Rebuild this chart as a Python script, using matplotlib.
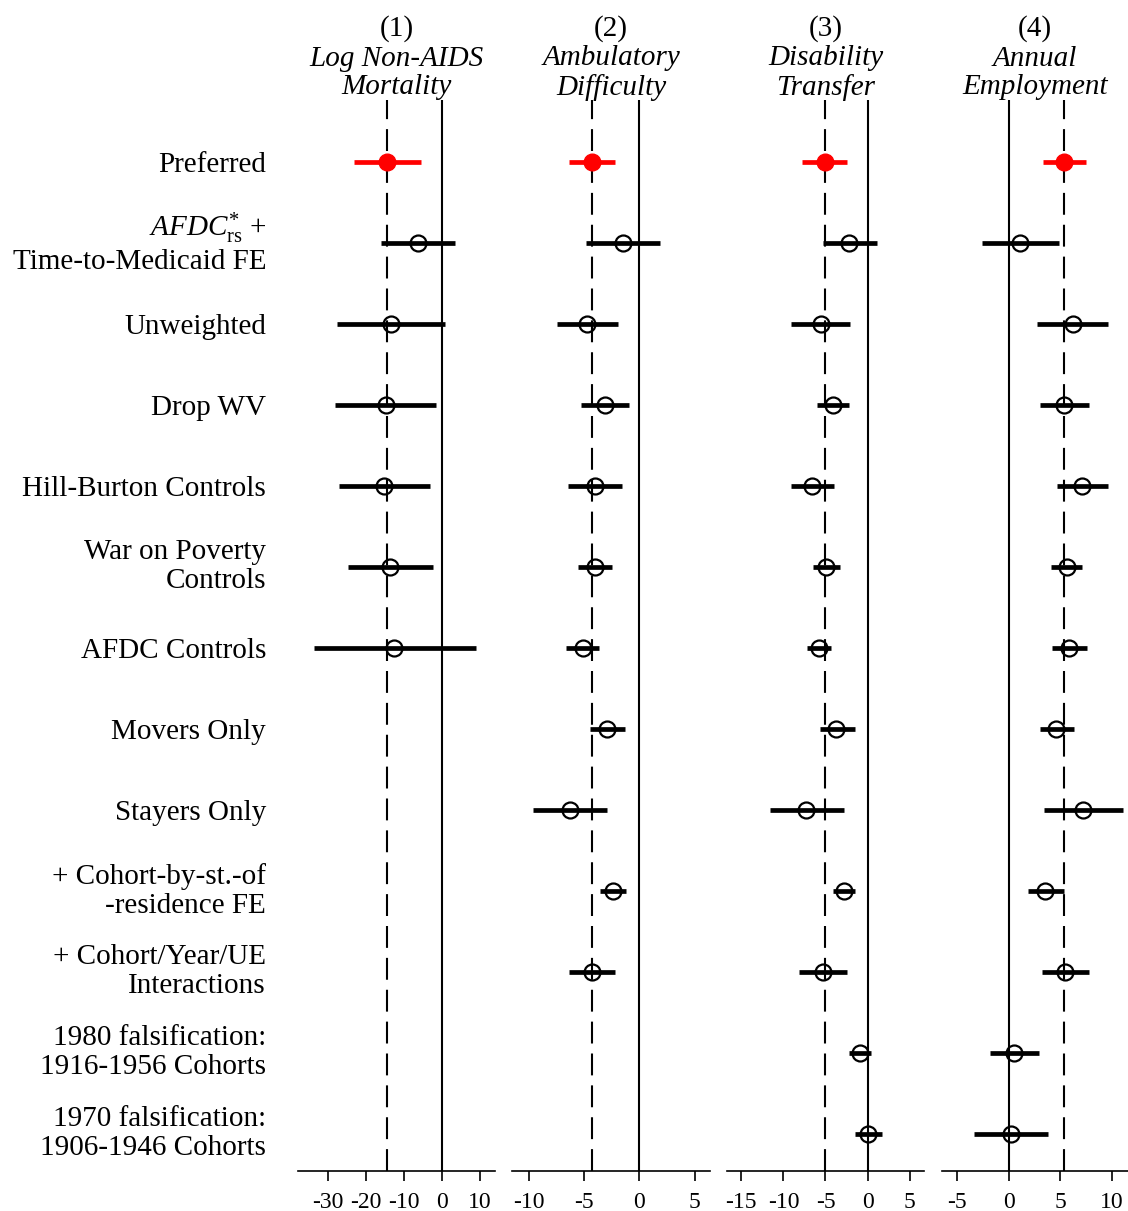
import numpy as np
import matplotlib
matplotlib.use('Agg')
import matplotlib.pyplot as plt

plt.rcParams['font.family'] = ['Liberation Serif', 'DejaVu Serif']
plt.rcParams['mathtext.fontset'] = 'custom'
plt.rcParams['mathtext.rm'] = 'Liberation Serif'
plt.rcParams['mathtext.it'] = 'Liberation Serif:italic'
plt.rcParams['axes.unicode_minus'] = False

row_labels = [
    'Preferred',
    '$\\mathit{AFDC}^{*}_{\\mathrm{rs}}$ +\nTime-to-Medicaid FE',
    'Unweighted',
    'Drop WV',
    'Hill-Burton Controls',
    'War on Poverty\nControls',
    'AFDC Controls',
    'Movers Only',
    'Stayers Only',
    '+ Cohort-by-st.-of\n-residence FE',
    '+ Cohort/Year/UE\nInteractions',
    '1980 falsification:\n1916-1956 Cohorts',
    '1970 falsification:\n1906-1946 Cohorts',
]

titles = ['Log Non-AIDS\nMortality', 'Ambulatory\nDifficulty',
          'Disability\nTransfer', 'Annual\nEmployment']

# (1) log non-AIDS mortality
est1 = [-14.6, -6.4, -13.5, -14.8, -15.2, -13.6, -12.6]
lo1 = [-23.3, -16.1, -27.7, -28.2, -27.1, -24.7, -33.7]
hi1 = [-5.6, 3.5, 0.9, -1.6, -3.1, -2.3, 8.9]

# (2) ambulatory difficulty
est2 = [-4.3, -1.5, -4.75, -3.1, -4.0, -4.0, -5.1, -2.95, -6.25, -2.4, -4.3]
lo2 = [-6.35, -4.8, -7.45, -5.3, -6.4, -5.5, -6.6, -4.45, -9.6, -3.55, -6.35]
hi2 = [-2.2, 1.85, -1.9, -0.95, -1.6, -2.5, -3.65, -1.3, -2.95, -1.15, -2.2]

# (3) disability transfer
est3 = [-5.1, -2.15, -5.55, -4.1, -6.6, -4.9, -5.8, -3.7, -7.3, -2.8, -5.35, -0.95, 0.05]
lo3 = [-7.8, -5.35, -9.05, -6.05, -9.15, -6.45, -7.2, -5.65, -11.65, -4.1, -8.2, -2.15, -1.55]
hi3 = [-2.4, 1.15, -2.05, -2.15, -3.95, -3.3, -4.35, -1.5, -2.85, -1.5, -2.4, 0.35, 1.7]

# (4) annual employment
est4 = [5.4, 1.05, 6.2, 5.4, 7.15, 5.65, 5.9, 4.6, 7.25, 3.55, 5.45, 0.5, 0.25]
lo4 = [3.3, -2.65, 2.75, 3.0, 4.7, 4.15, 4.25, 3.0, 3.4, 1.9, 3.2, -1.8, -3.4]
hi4 = [7.55, 4.9, 9.7, 7.8, 9.65, 7.15, 7.6, 6.35, 11.15, 5.4, 7.8, 2.9, 3.85]

panels = [(est1, lo1, hi1), (est2, lo2, hi2), (est3, lo3, hi3), (est4, lo4, hi4)]
xlims = [(-38, 14), (-11.5, 6.4), (-16.7, 6.7), (-6.5, 11.6)]
xticks = [[-30, -20, -10, 0, 10], [-10, -5, 0, 5], [-15, -10, -5, 0, 5], [-5, 0, 5, 10]]

W, H = 1128, 1211
fig = plt.figure(figsize=(W / 100, H / 100), dpi=100)

lefts = [298, 512, 727, 942]
rights = [495, 710, 924, 1128]
top_px, bot_px = 100, 1171

for k, (est, lo, hi) in enumerate(panels):
    ax = fig.add_axes([lefts[k] / W, 1 - bot_px / H,
                       (rights[k] - lefts[k]) / W, (bot_px - top_px) / H])
    n = len(est)
    y = np.arange(n)
    ax.axvline(0, color='black', lw=1.5, zorder=1)
    ax.axvline(est[0], color='black', lw=1.5, ls=(0, (10.5, 4.8)), zorder=1)
    ax.hlines(y[1:], lo[1:], hi[1:], color='black', lw=3.4, zorder=2)
    ax.plot(est[1:], y[1:], 'o', ms=11.5, mfc='none', mec='black', mew=1.6, zorder=3)
    ax.hlines(y[:1], lo[:1], hi[:1], color='red', lw=3.4, zorder=2)
    ax.plot(est[:1], y[:1], 'o', ms=12, color='red', zorder=3)

    ax.set_xlim(*xlims[k])
    ax.set_ylim(12.46, -0.765)
    ax.set_xticks(xticks[k])
    ax.tick_params(axis='x', length=7, width=1.2, pad=8, labelsize=17)
    for s in ['top', 'right', 'left']:
        ax.spines[s].set_visible(False)
    ax.spines['bottom'].set_linewidth(1.2)
    if k == 0:
        ax.set_yticks(np.arange(len(row_labels)))
        ax.set_yticklabels(row_labels, fontsize=21, linespacing=1.14)
        ax.tick_params(axis='y', length=0, pad=23)
        for t in ax.get_yticklabels():
            if '\n' in t.get_text():
                t.set_va('center')
    else:
        ax.set_yticks([])

    xc = (lefts[k] + rights[k]) / 2 / W
    fig.text(xc, 1 - 29 / H, '(%d)' % (k + 1), ha='center', va='center', fontsize=21)
    fig.text(xc, 1 - 73 / H, titles[k], ha='center', va='center', fontsize=21,
             style='italic', linespacing=1.14)

fig.savefig('out.png', dpi=100)
